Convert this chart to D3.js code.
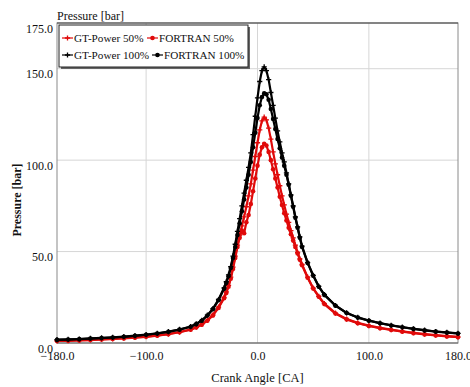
<!DOCTYPE html>
<html>
<head>
<meta charset="utf-8">
<script src="https://cdn.jsdelivr.net/npm/d3@7"></script>
<style>
  html, body { margin: 0; padding: 0; background: #fff; }
  svg text { font-family: "Liberation Serif", "DejaVu Serif", serif; }
</style>
</head>
<body>
<div id="container"></div>
<script>
// crank angle [deg] shared by all series
const angles = [-180, -170, -160, -150, -140, -130, -120, -110, -100, -90, -80, -70, -60,
  -55, -50, -45, -40, -35, -30,
  -28, -26, -24, -22, -20, -18, -16, -14, -12, -10, -8, -6, -4, -2, 0, 2, 4, 6, 8, 10,
  12, 14, 16, 18, 20, 22, 24, 26, 28, 30, 32, 34, 36, 38, 40,
  45, 50, 55, 60,
  70, 80, 90, 100, 110, 120, 130, 140, 150, 160, 170, 180];

const gtPower50 = [1.2, 1.3, 1.5, 1.7, 2.0, 2.3, 2.6, 3.0, 3.5, 4.1, 4.9, 6.0, 7.4,
  8.6, 10.2, 12.4, 15.4, 19.6, 25,
  28, 31.5, 36, 41.5, 47.5, 53.5, 59, 64, 69, 74.5, 80.5, 87, 94.5, 102, 109.5, 116.5, 121.5, 123.5, 122, 117.5,
  111.5, 104.5, 98, 92, 86, 80.5, 75.5, 70.5, 66, 61.5, 57.5, 53.5, 49.5, 46, 43,
  36, 30, 25.5, 21.5,
  16.3, 13.1, 11, 9.5, 8.3, 7.3, 6.4, 5.6, 4.9, 4.3, 3.8, 3.3];

const fortran50 = [1.1, 1.2, 1.4, 1.6, 1.9, 2.2, 2.5, 2.9, 3.4, 4.0, 4.8, 5.9, 7.3,
  8.5, 10.0, 12.2, 15.1, 19.2, 24.5,
  27.4, 30.8, 35.2, 40.5, 46.5, 52.5, 57.5, 61.5, 60, 66, 70, 76, 83, 90, 97, 103, 107, 109, 108, 104.5,
  100, 95, 90, 85, 80, 75.5, 71, 67, 63, 59.5, 56, 52.5, 49, 45.5, 42.5,
  35.7, 29.8, 25.3, 21.3,
  16.1, 12.9, 10.8, 9.3, 8.1, 7.1, 6.2, 5.4, 4.7, 4.1, 3.6, 3.2];

const gtPower100 = [1.8, 2.0, 2.2, 2.5, 2.8, 3.1, 3.5, 4.0, 4.6, 5.3, 6.2, 7.4, 9.0,
  10.5, 12.4, 15.2, 18.8, 23.8, 30.2,
  33.5, 37.3, 41.8, 47.5, 54, 61, 68, 75, 82, 89, 96, 104, 114, 124, 134, 143, 149, 151, 149, 144,
  137, 130, 123, 116, 110, 104, 99, 93, 87, 81, 75, 69, 63.5, 58, 53,
  44, 37, 31, 26.5,
  20.5, 16.5, 14, 12.3, 10.9, 9.7, 8.7, 7.8, 7.0, 6.3, 5.8, 5.3];

const fortran100 = [1.7, 1.9, 2.1, 2.4, 2.7, 3.0, 3.4, 3.9, 4.5, 5.2, 6.1, 7.3, 8.9,
  10.3, 12.2, 15.0, 18.5, 23.4, 29.6,
  32.8, 36.5, 41, 46.5, 52.5, 59, 65.5, 72, 78.5, 85, 92, 99, 107, 115, 123, 130, 134.5, 136.5, 136, 133,
  128, 122.5, 117, 111.5, 106.5, 101.5, 97, 92, 86.5, 80.5, 74.5, 68.5, 63, 57.5, 52.5,
  43.8, 36.8, 30.8, 26.3,
  20.4, 16.4, 13.9, 12.2, 10.8, 9.6, 8.6, 7.7, 6.9, 6.2, 5.7, 5.2];

const seriesNames = ['GT-Power 50%', 'FORTRAN 50%', 'GT-Power 100%', 'FORTRAN 100%'];
const seriesValues = [gtPower50, fortran50, gtPower100, fortran100];
const seriesColors = ['#e00a0a', '#e00a0a', '#000000', '#000000'];
const seriesMarkers = ['plus', 'dot', 'plus', 'dot'];

const xTicks = [-180, -100, 0, 100, 180];
const yTicks = [0, 50, 100, 150, 175];
const xGrid = [-100, 0, 100];
const yGrid = [50, 100, 150];

const width = 470, height = 387;
const margin = { left: 57, right: 12, top: 23, bottom: 44 };

const svg = d3.select('#container').append('svg')
  .attr('width', width)
  .attr('height', height);

const x = d3.scaleLinear().domain([-180, 180]).range([margin.left, width - margin.right]);
const y = d3.scaleLinear().domain([0, 175]).range([height - margin.bottom, margin.top]);

// -- grid
svg.append('g')
  .selectAll('line')
  .data(xGrid)
  .join('line')
  .attr('x1', d => x(d)).attr('x2', d => x(d))
  .attr('y1', y(0)).attr('y2', y(175))
  .attr('stroke', '#d6d6d6').attr('stroke-width', 1);
svg.append('g')
  .selectAll('line')
  .data(yGrid)
  .join('line')
  .attr('x1', x(-180)).attr('x2', x(180))
  .attr('y1', d => y(d)).attr('y2', d => y(d))
  .attr('stroke', '#d6d6d6').attr('stroke-width', 1);

// -- frame
svg.append('rect')
  .attr('x', x(-180)).attr('y', y(175))
  .attr('width', x(180) - x(-180)).attr('height', y(0) - y(175))
  .attr('fill', 'none').attr('stroke', '#8a8a8a').attr('stroke-width', 1);
svg.append('line')
  .attr('x1', x(-180)).attr('x2', x(180)).attr('y1', y(175)).attr('y2', y(175))
  .attr('stroke', '#444').attr('stroke-width', 1.2);
svg.append('line')
  .attr('x1', x(-180)).attr('x2', x(180)).attr('y1', y(0)).attr('y2', y(0))
  .attr('stroke', '#666').attr('stroke-width', 1.2);

// -- axes
const fmt = d3.format('.1f');
const xAxis = svg.append('g')
  .attr('transform', `translate(0,${y(0)})`)
  .call(d3.axisBottom(x).tickValues(xTicks).tickFormat(fmt).tickSize(0).tickPadding(8));
xAxis.select('.domain').remove();
xAxis.selectAll('text').attr('font-size', 12).attr('fill', '#111')
  .style('font-family', '"Liberation Serif", serif');

const yAxis = svg.append('g')
  .attr('transform', `translate(${x(-180)},0)`)
  .call(d3.axisLeft(y).tickValues(yTicks).tickFormat(fmt).tickSize(0).tickPadding(4));
yAxis.select('.domain').remove();
yAxis.selectAll('text').attr('font-size', 12).attr('fill', '#111').attr('dy', '0.75em')
  .style('font-family', '"Liberation Serif", serif');

// -- titles
svg.append('text')
  .attr('x', x(0)).attr('y', 382)
  .attr('text-anchor', 'middle')
  .attr('font-size', 12.5).attr('fill', '#111')
  .text('Crank Angle [CA]');
svg.append('text')
  .attr('transform', `translate(21,200) rotate(-90)`)
  .attr('text-anchor', 'middle')
  .attr('font-size', 12).attr('font-weight', 'bold').attr('fill', '#111')
  .text('Pressure [bar]');
svg.append('text')
  .attr('x', 57).attr('y', 20)
  .attr('font-size', 12).attr('fill', '#111')
  .text('Pressure [bar]');

// -- series
const line = d3.line()
  .x((d, i) => x(angles[i]))
  .y(d => y(d));

function drawMarker(sel, type, color) {
  if (type === 'plus') {
    sel.append('path')
      .attr('d', 'M-2.6,0H2.6M0,-2.6V2.6')
      .attr('stroke', color).attr('stroke-width', 1.3).attr('fill', 'none');
  } else {
    sel.append('circle')
      .attr('r', 2.3)
      .attr('fill', color);
  }
}

const plot = svg.append('g');
seriesValues.forEach((vals, s) => {
  const g = plot.append('g');
  g.append('path')
    .datum(vals)
    .attr('d', line)
    .attr('fill', 'none')
    .attr('stroke', seriesColors[s])
    .attr('stroke-width', 2.2)
    .attr('stroke-linejoin', 'round');
  const m = g.selectAll('g')
    .data(vals)
    .join('g')
    .attr('transform', (d, i) => `translate(${x(angles[i])},${y(d)})`);
  drawMarker(m, seriesMarkers[s], seriesColors[s]);
});

// -- legend
const lg = svg.append('g').attr('transform', 'translate(59,25)');
lg.append('rect').attr('x', 2).attr('y', 2).attr('width', 189).attr('height', 42).attr('fill', '#666');
lg.append('rect').attr('x', 0).attr('y', 0).attr('width', 189).attr('height', 42)
  .attr('fill', '#fff').attr('stroke', '#222').attr('stroke-width', 1);

const legendPos = [[3, 13], [88, 13], [3, 30], [93, 30]];
seriesNames.forEach((name, s) => {
  const [lx, ly] = legendPos[s];
  const item = lg.append('g').attr('transform', `translate(${lx},${ly})`);
  item.append('line').attr('x1', 0).attr('x2', 11).attr('y1', 0).attr('y2', 0)
    .attr('stroke', seriesColors[s]).attr('stroke-width', 1.2);
  drawMarker(item.append('g').attr('transform', 'translate(5.5,0)'), seriesMarkers[s], seriesColors[s]);
  item.append('text')
    .attr('x', 12).attr('y', 4)
    .attr('font-size', 11.2).attr('fill', '#111')
    .text(name);
});
</script>
</body>
</html>
